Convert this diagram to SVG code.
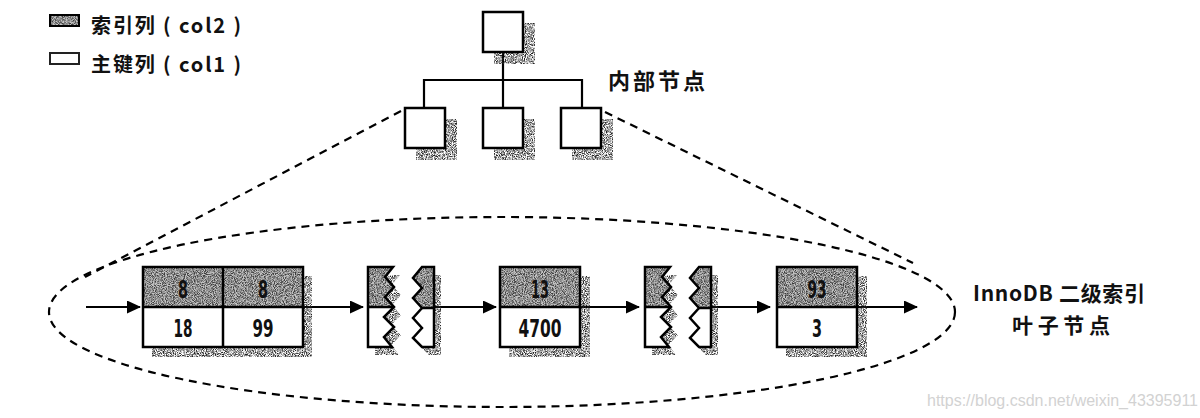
<svg xmlns="http://www.w3.org/2000/svg" width="1200" height="418" viewBox="0 0 1200 418">
<defs>
  <filter id="grain" x="0" y="0" width="1" height="1" filterUnits="objectBoundingBox">
    <feTurbulence type="fractalNoise" baseFrequency="1.1" numOctaves="1" seed="4" result="n"/>
    <feColorMatrix in="n" type="matrix" values="0 0 0 0 0  0 0 0 0 0  0 0 0 0 0  0 0 0 3 -1.1" result="m"/>
    <feComposite in="SourceGraphic" in2="m" operator="in"/>
  </filter>
  <marker id="arr" markerUnits="userSpaceOnUse" markerWidth="14" markerHeight="13" refX="13" refY="6.5" orient="auto">
    <path d="M0,0 L14,6.5 L0,13 Z" fill="#000"/>
  </marker>
</defs>
<style>
  .box{fill:#fff;stroke:#000;stroke-width:2.5}
  .shadow{fill:#222;filter:url(#grain)}
  .top{fill:#c4c4c4}
  .topg{fill:#3a3a3a;filter:url(#grain)}
  .white{fill:#fff}
  .edge{fill:none;stroke:#000;stroke-width:2.5;stroke-linejoin:miter}
  .line{stroke:#000;stroke-width:2.2;fill:none}
  .dash{stroke:#000;stroke-width:2.2;fill:none;stroke-dasharray:8 6}
  .arrow{stroke:#000;stroke-width:2;fill:none;marker-end:url(#arr)}
  .num{font-family:"Liberation Sans Narrow","DejaVu Sans Condensed","DejaVu Sans",sans-serif;font-stretch:condensed;font-weight:bold;font-size:24px;text-anchor:middle;fill:#111}
  .cjk{font-family:"Noto Sans CJK SC","Noto Sans",sans-serif;font-weight:bold;fill:#111}
  .wm{font-family:"Liberation Sans",Arial,sans-serif;font-size:16px;fill:#d2d2d2;text-anchor:end}
</style>

<g id="legend">
  <rect class="top" x="50" y="15" width="29" height="11"/>
  <rect class="topg" x="50" y="15" width="29" height="11"/>
  <rect x="50" y="15" width="29" height="11" fill="none" stroke="#000" stroke-width="2"/>
  <text class="cjk" x="91" y="33" font-size="20" textLength="150" lengthAdjust="spacing">索引列 ( col2 )</text>
  <rect x="50" y="53" width="29" height="11" fill="#fff" stroke="#222" stroke-width="2"/>
  <text class="cjk" x="91" y="72" font-size="20" textLength="150" lengthAdjust="spacing">主键列 ( col1 )</text>
</g>

<g id="connectors">
  <line class="line" x1="503" y1="52" x2="503" y2="80"/>
  <polyline class="line" points="424,108 424,80 582,80 582,108"/>
  <line class="line" x1="503" y1="80" x2="503" y2="108"/>
  <line class="dash" x1="401" y1="111" x2="85" y2="277"/>
  <line class="dash" x1="605" y1="112" x2="913" y2="263"/>
  <ellipse class="dash" cx="502" cy="312" rx="453" ry="95"/>
  <line class="arrow" x1="86" y1="307" x2="140" y2="307"/>
  <line class="arrow" x1="303" y1="307" x2="363" y2="307"/>
  <line class="arrow" x1="435" y1="307" x2="496" y2="307"/>
  <line class="arrow" x1="580" y1="307" x2="639" y2="307"/>
  <line class="arrow" x1="712" y1="307" x2="770" y2="307"/>
  <line class="arrow" x1="858" y1="307" x2="917" y2="307"/>
</g>

<g id="root-node">
  <rect class="shadow" x="494" y="23" width="41" height="41"/>
  <rect class="box" x="483" y="12" width="40" height="40"/>
</g>
<g id="inner-node-1">
  <rect class="shadow" x="416" y="119" width="41" height="41"/>
  <rect class="box" x="405" y="108" width="40" height="40"/>
</g>
<g id="inner-node-2">
  <rect class="shadow" x="494" y="119" width="41" height="41"/>
  <rect class="box" x="483" y="108" width="40" height="40"/>
</g>
<g id="inner-node-3">
  <rect class="shadow" x="572" y="119" width="41" height="41"/>
  <rect class="box" x="561" y="108" width="40" height="40"/>
</g>
<g id="inner-label">
  <text class="cjk" x="608" y="89" font-size="22" textLength="97" lengthAdjust="spacing">内部节点</text>
</g>

<g id="leaf-1">
  <rect class="shadow" x="152" y="276" width="160" height="81"/>
  <rect class="top" x="143" y="267" width="160" height="40"/>
  <rect class="topg" x="143" y="267" width="160" height="40"/>
  <rect class="white" x="143" y="307" width="160" height="40"/>
  <rect class="edge" x="143" y="267" width="160" height="80"/>
  <line class="edge" x1="143" y1="307" x2="303" y2="307"/>
  <line class="edge" x1="223" y1="267" x2="223" y2="347"/>
  <text class="num" x="183" y="298" textLength="10" lengthAdjust="spacingAndGlyphs">8</text>
  <text class="num" x="263" y="298" textLength="10" lengthAdjust="spacingAndGlyphs">8</text>
  <text class="num" x="183" y="337" textLength="19" lengthAdjust="spacingAndGlyphs">18</text>
  <text class="num" x="263" y="337" textLength="21" lengthAdjust="spacingAndGlyphs">99</text>
</g>

<g id="gap-1">
  <polygon class="shadow" transform="translate(7,8)" points="368,267 393,267 385,277 394,287 385,297 394,307 384,317 394,327 384,337 392,347 368,347"/>
  <polygon class="shadow" transform="translate(7,8)" points="422,267 434,267 434,347 422,347 413,338 422,328 413,318 422,308 413,298 422,288 413,278"/>
  <polygon class="top" points="368,267 393,267 385,277 394,287 385,297 394,307 368,307"/>
  <polygon class="topg" points="368,267 393,267 385,277 394,287 385,297 394,307 368,307"/>
  <polygon class="white" points="368,307 394,307 384,317 394,327 384,337 392,347 368,347"/>
  <polygon class="edge" points="368,267 393,267 385,277 394,287 385,297 394,307 384,317 394,327 384,337 392,347 368,347"/>
  <line class="edge" x1="368" y1="307" x2="394" y2="307"/>
  <polygon class="top" points="422,267 434,267 434,308 422,308 413,298 422,288 413,278"/>
  <polygon class="topg" points="422,267 434,267 434,308 422,308 413,298 422,288 413,278"/>
  <polygon class="white" points="422,308 434,308 434,347 422,347 413,338 422,328 413,318"/>
  <polygon class="edge" points="422,267 434,267 434,347 422,347 413,338 422,328 413,318 422,308 413,298 422,288 413,278"/>
  <line class="edge" x1="422" y1="308" x2="434" y2="308"/>
</g>

<g id="leaf-2">
  <rect class="shadow" x="509" y="276" width="81" height="81"/>
  <rect class="top" x="500" y="267" width="80" height="40"/>
  <rect class="topg" x="500" y="267" width="80" height="40"/>
  <rect class="white" x="500" y="307" width="80" height="40"/>
  <rect class="edge" x="500" y="267" width="80" height="80"/>
  <line class="edge" x1="500" y1="307" x2="580" y2="307"/>
  <text class="num" x="540" y="298" textLength="18" lengthAdjust="spacingAndGlyphs">13</text>
  <text class="num" x="540" y="337" textLength="43" lengthAdjust="spacingAndGlyphs">4700</text>
</g>

<g id="gap-2" transform="translate(277,0)">
  <polygon class="shadow" transform="translate(7,8)" points="368,267 393,267 385,277 394,287 385,297 394,307 384,317 394,327 384,337 392,347 368,347"/>
  <polygon class="shadow" transform="translate(7,8)" points="422,267 434,267 434,347 422,347 413,338 422,328 413,318 422,308 413,298 422,288 413,278"/>
  <polygon class="top" points="368,267 393,267 385,277 394,287 385,297 394,307 368,307"/>
  <polygon class="topg" points="368,267 393,267 385,277 394,287 385,297 394,307 368,307"/>
  <polygon class="white" points="368,307 394,307 384,317 394,327 384,337 392,347 368,347"/>
  <polygon class="edge" points="368,267 393,267 385,277 394,287 385,297 394,307 384,317 394,327 384,337 392,347 368,347"/>
  <line class="edge" x1="368" y1="307" x2="394" y2="307"/>
  <polygon class="top" points="422,267 434,267 434,308 422,308 413,298 422,288 413,278"/>
  <polygon class="topg" points="422,267 434,267 434,308 422,308 413,298 422,288 413,278"/>
  <polygon class="white" points="422,308 434,308 434,347 422,347 413,338 422,328 413,318"/>
  <polygon class="edge" points="422,267 434,267 434,347 422,347 413,338 422,328 413,318 422,308 413,298 422,288 413,278"/>
  <line class="edge" x1="422" y1="308" x2="434" y2="308"/>
</g>

<g id="leaf-3">
  <rect class="shadow" x="786" y="276" width="81" height="81"/>
  <rect class="top" x="777" y="267" width="80" height="40"/>
  <rect class="topg" x="777" y="267" width="80" height="40"/>
  <rect class="white" x="777" y="307" width="80" height="40"/>
  <rect class="edge" x="777" y="267" width="80" height="80"/>
  <line class="edge" x1="777" y1="307" x2="857" y2="307"/>
  <text class="num" x="817" y="298" textLength="19" lengthAdjust="spacingAndGlyphs">93</text>
  <text class="num" x="817" y="337" textLength="10" lengthAdjust="spacingAndGlyphs">3</text>
</g>

<g id="leaf-label">
  <text class="cjk" x="973" y="301" font-size="21" textLength="172" lengthAdjust="spacing">InnoDB 二级索引</text>
  <text class="cjk" x="1012" y="333" font-size="21" textLength="98" lengthAdjust="spacing">叶子节点</text>
</g>

<text class="wm" x="1198" y="406">https://blog.csdn.net/weixin_43395911</text>
</svg>
